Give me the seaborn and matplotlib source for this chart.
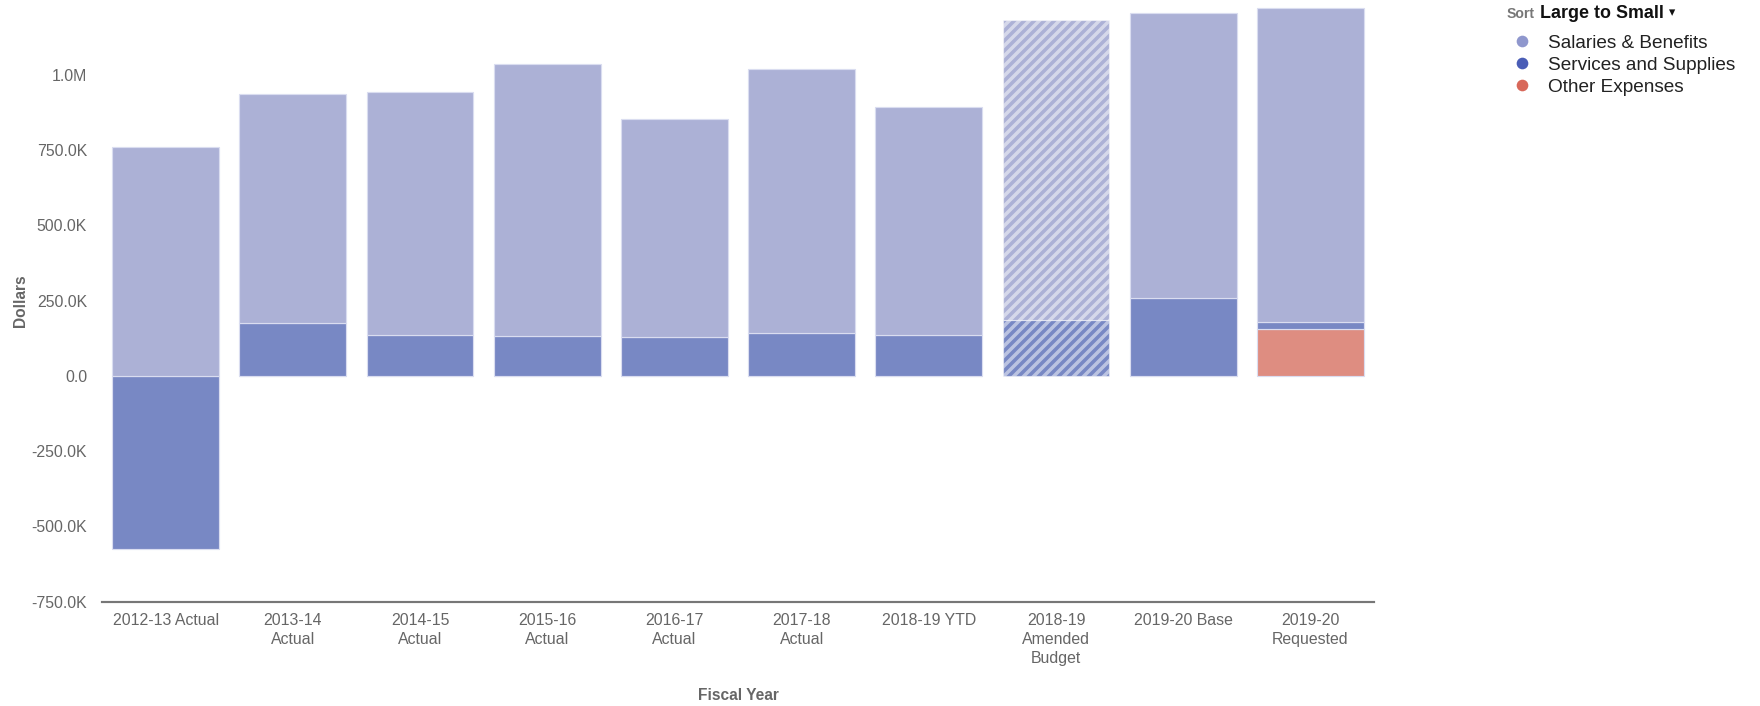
import numpy as np
import pandas as pd
import matplotlib
matplotlib.use("Agg")
import matplotlib.pyplot as plt
from matplotlib.lines import Line2D
from matplotlib.ticker import FixedLocator, FixedFormatter
import seaborn as sns

# ---------------- data ----------------
years = ["2012-13 Actual", "2013-14\nActual", "2014-15\nActual", "2015-16\nActual",
         "2016-17\nActual", "2017-18\nActual", "2018-19 YTD",
         "2018-19\nAmended\nBudget", "2019-20 Base", "2019-20\nRequested"]
salaries = [762000, 759000, 808000, 904000, 724000, 878000, 756000, 998000, 947000, 1042000]
services = [-575000, 177000, 137000, 133000, 130000, 142000, 137000, 185000, 260000, 24000]
other = [0, 0, 0, 0, 0, 0, 0, 0, 0, 156000]
hatched_years = ["2018-19\nAmended\nBudget"]

series_names = ["Salaries & Benefits", "Services and Supplies", "Other Expenses"]
bar_colors = ["#ACB1D6", "#7888C4", "#DE8D81"]
legend_colors = ["#8F97CD", "#4A5DB6", "#D8685A"]

y_ticks = [-750000, -500000, -250000, 0, 250000, 500000, 750000, 1000000]
y_tick_labels = ["-750.0K", "-500.0K", "-250.0K", "0.0", "250.0K", "500.0K", "750.0K", "1.0M"]

# ---------------- style ----------------
sns.set_style("white")
plt.rcParams["font.family"] = ["Liberation Sans", "DejaVu Sans"]
plt.rcParams["hatch.linewidth"] = 2.1

DPI = 120
fig = plt.figure(figsize=(1760 / DPI, 706 / DPI), dpi=DPI)
ax = fig.add_axes([102 / 1760, 1 - 601.7 / 706, 1272 / 1760, 602 / 706])

sal = np.array(salaries, dtype=float)
srv = np.array(services, dtype=float)
oth = np.array(other, dtype=float)
srv_bottom = np.where(srv >= 0, oth, 0.0)
sal_bottom = oth + np.clip(srv, 0, None)

layers = [
    (oth, np.zeros_like(oth), bar_colors[2]),
    (srv, srv_bottom, bar_colors[1]),
    (sal, sal_bottom, bar_colors[0]),
]
hatch_idx = [years.index(h) for h in hatched_years]
for values, bottoms, col in layers:
    sns.barplot(x=years, y=values, bottom=bottoms, color=col, saturation=1,
                width=0.84, edgecolor="#DADDF0", linewidth=0.7, ax=ax, order=years)
    cont = ax.containers[-1]
    for i in hatch_idx:
        p = cont[i]
        p.set_hatch("////")
        p.set_edgecolor((1, 1, 1, 0.5))

ax.set_xlim(-0.5, len(years) - 0.5)
ax.set_ylim(-750000, 1250000)
ax.yaxis.set_major_locator(FixedLocator(y_ticks))
ax.yaxis.set_major_formatter(FixedFormatter(y_tick_labels))

for s in ["left", "right", "top"]:
    ax.spines[s].set_visible(False)
ax.spines["bottom"].set_color("#777777")
ax.spines["bottom"].set_linewidth(1.3)
ax.grid(False)

ax.tick_params(axis="y", length=0, pad=9, labelsize=9.5, labelcolor="#666666")
ax.tick_params(axis="x", length=0, pad=7, labelsize=9.5, labelcolor="#666666")
for t in ax.get_xticklabels():
    t.set_linespacing(1.32)

ax.set_xlabel("Fiscal Year", fontsize=9.3, fontweight="bold", color="#666666")
ax.xaxis.set_label_coords(0.5, -0.1435)
ax.set_ylabel("Dollars", fontsize=9.3, fontweight="bold", color="#666666")
ax.yaxis.set_label_coords(-0.058, 0.5)

# legend
handles = [Line2D([], [], marker="o", ls="", markersize=7, color=c,
                  markeredgewidth=0) for c in legend_colors]
fig.legend(handles, series_names, loc="upper left",
           bbox_to_anchor=(1513.5 / 1760, 1 - 34.5 / 706), frameon=False,
           fontsize=11.4, handlelength=0.9, handletextpad=0.92, labelspacing=0.24,
           borderpad=0, borderaxespad=0, labelcolor="#222222")

fig.text(1506.7 / 1760, 1 - 13.8 / 706, "Sort", fontsize=8.4, fontweight="bold",
         color="#777777", ha="left", va="center")
fig.text(1540 / 1760, 1 - 13.3 / 706, "Large to Small", fontsize=10.7, fontweight="bold",
         color="#111111", ha="left", va="center")
fig.text(1672 / 1760, 1 - 12.5 / 706, "\u25BE", fontsize=7.5, color="#111111",
         ha="center", va="center", family=["DejaVu Sans"])

fig.savefig("out.png", dpi=DPI)
